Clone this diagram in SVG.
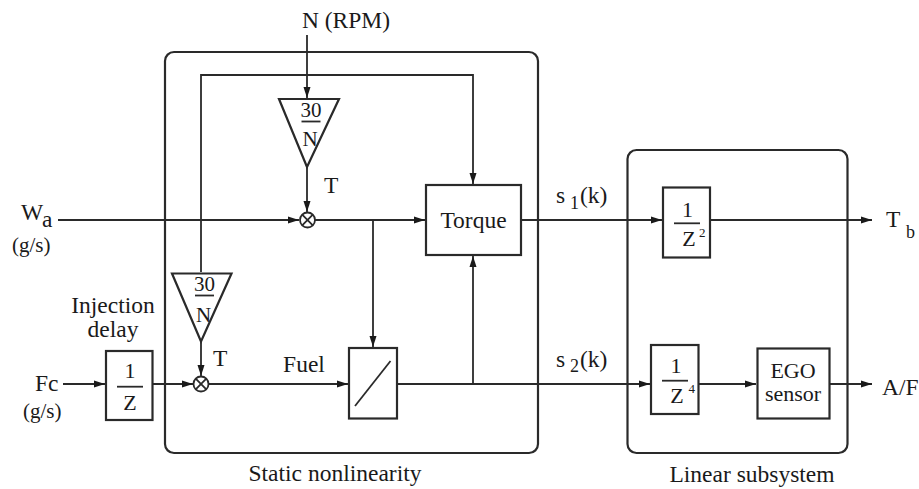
<svg xmlns="http://www.w3.org/2000/svg" width="919" height="489" viewBox="0 0 919 489" font-family="'Liberation Serif','Times New Roman',serif">
<defs>
<marker id="arr" markerUnits="userSpaceOnUse" markerWidth="12" markerHeight="8" refX="11" refY="4" orient="auto">
<path d="M0,0.5 L11,4 L0,7.5 Z" fill="#1a1a1a"/>
</marker>
<style>
text{font-family:"Liberation Serif","Times New Roman",serif;fill:#1a1a1a;font-size:23.5px}
.c{text-anchor:middle}
.frac{font-size:22px}
.mid{font-size:21px}
.sub{font-size:18px}
.sup{font-size:13px}
.box{fill:#fff;stroke:#2a2a2a;stroke-width:2.2}
.grp{fill:none;stroke:#2a2a2a;stroke-width:2.2}
.ln{fill:none;stroke:#2a2a2a;stroke-width:1.8}
.w{stroke:#2a2a2a;stroke-width:1.8;fill:none}
</style>
</defs>
<rect width="919" height="489" fill="#fff"/>

<g id="static-nonlinearity">
<rect class="grp" x="165" y="52" width="373" height="401" rx="9"/>
<text class="c" x="335" y="481">Static nonlinearity</text>
</g>
<g id="linear-subsystem">
<rect class="grp" x="627.5" y="150" width="220" height="303" rx="9"/>
<text class="c" x="752" y="482">Linear subsystem</text>
</g>

<g id="connectors">
<path class="ln" d="M307,35 V98" marker-end="url(#arr)"/>
<path class="ln" d="M201,272 V75 H473 V184" marker-end="url(#arr)"/>
<path class="ln" d="M307,167 V212" marker-end="url(#arr)"/>
<path class="ln" d="M58,220 H299" marker-end="url(#arr)"/>
<path class="ln" d="M315,220 H425" marker-end="url(#arr)"/>
<path class="ln" d="M373,220 V347" marker-end="url(#arr)"/>
<path class="ln" d="M521,220 H662" marker-end="url(#arr)"/>
<path class="ln" d="M710,220 H872" marker-end="url(#arr)"/>
<path class="ln" d="M63,384 H105" marker-end="url(#arr)"/>
<path class="ln" d="M153,384 H193" marker-end="url(#arr)"/>
<path class="ln" d="M201,342 V376" marker-end="url(#arr)"/>
<path class="ln" d="M208,384 H348" marker-end="url(#arr)"/>
<path class="ln" d="M397,384 H650" marker-end="url(#arr)"/>
<path class="ln" d="M473,384 V256" marker-end="url(#arr)"/>
<path class="ln" d="M698,384 H756" marker-end="url(#arr)"/>
<path class="ln" d="M829,384 H872" marker-end="url(#arr)"/>
</g>

<g id="input-n">
<text class="c" x="346" y="28">N (RPM)</text>
</g>
<g id="input-wa">
<text x="21" y="220" font-size="19">W</text><text x="42" y="227" font-size="17">a</text>
<text class="mid" x="12" y="252">(g/s)</text>
</g>
<g id="input-fc">
<text x="35" y="391">Fc</text>
<text class="mid" x="23" y="418">(g/s)</text>
</g>

<g id="gain-1">
<polygon class="box" points="279,99 339,99 307,167"/>
<text class="c mid" x="311" y="117">30</text>
<line class="w" x1="301.5" y1="121.5" x2="320.5" y2="121.5"/>
<text class="c mid" x="310" y="145.5">N</text>
</g>
<g id="gain-2">
<polygon class="box" points="172,273.5 231.5,273.5 201,341.5"/>
<text class="c mid" x="204.5" y="290.5">30</text>
<line class="w" x1="195" y1="295.5" x2="214" y2="295.5"/>
<text class="c mid" x="203.5" y="321.5">N</text>
</g>

<g id="mult-1">
<circle class="w" cx="307.5" cy="220" r="7.5" fill="#fff"/>
<path class="w" d="M302.2,214.7 L312.8,225.3 M312.8,214.7 L302.2,225.3"/>
<text x="324" y="193">T</text>
</g>
<g id="mult-2">
<circle class="w" cx="201" cy="384" r="7.5" fill="#fff"/>
<path class="w" d="M195.7,378.7 L206.3,389.3 M206.3,378.7 L195.7,389.3"/>
<text x="213" y="366">T</text>
</g>

<g id="torque">
<rect class="box" x="426" y="185" width="95" height="70"/>
<text class="c" x="473.5" y="228">Torque</text>
</g>

<g id="fuel-map">
<rect class="box" x="349" y="348" width="48" height="70.5"/>
<line class="w" x1="355" y1="406" x2="390.5" y2="361" stroke-width="2.2"/>
<text class="c" x="304" y="372">Fuel</text>
</g>

<g id="injection-delay">
<text class="c" x="113" y="313">Injection</text>
<text class="c" x="113" y="337">delay</text>
<rect class="box" x="106" y="351" width="46.5" height="69"/>
<text class="c frac" x="130" y="378">1</text>
<line class="w" x1="117" y1="386.7" x2="143" y2="386.7"/>
<text class="c frac" x="130" y="410">Z</text>
</g>

<g id="delay-z2">
<rect class="box" x="663" y="187.5" width="47" height="70"/>
<text class="c frac" x="687.5" y="216.5">1</text>
<line class="w" x1="674" y1="223.3" x2="700" y2="223.3"/>
<text class="c frac" x="689" y="246">Z</text>
<text class="sup" x="699" y="236.5">2</text>
</g>

<g id="delay-z4">
<rect class="box" x="651" y="345" width="47.5" height="69"/>
<text class="c frac" x="676" y="373">1</text>
<line class="w" x1="662" y1="380.7" x2="688" y2="380.7"/>
<text class="c frac" x="677" y="403">Z</text>
<text class="sup" x="688.5" y="393">4</text>
</g>

<g id="ego-sensor">
<rect class="box" x="757.5" y="348.5" width="72" height="70"/>
<text class="c frac" x="793" y="378">EGO</text>
<text class="c frac" x="793" y="401">sensor</text>
</g>

<g id="signal-s1">
<text x="556" y="203">s</text><text class="sub" x="570" y="208.5">1</text><text x="580" y="203">(k)</text>
</g>
<g id="signal-s2">
<text x="556" y="367">s</text><text class="sub" x="570" y="372">2</text><text x="580" y="367">(k)</text>
</g>

<g id="output-tb">
<text x="886" y="227">T</text><text class="sub" x="906" y="238">b</text>
</g>
<g id="output-af">
<text x="882" y="395">A/F</text>
</g>
</svg>
